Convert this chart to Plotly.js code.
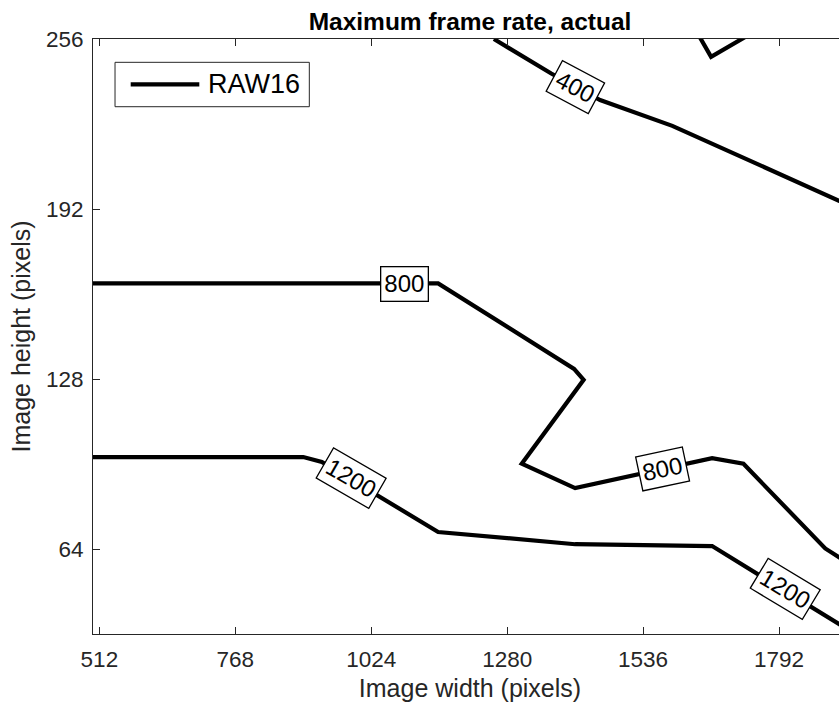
<!DOCTYPE html>
<html>
<head>
<meta charset="utf-8">
<script src="https://cdn.plot.ly/plotly-3.0.1.min.js"></script>
<style>
  html, body { margin: 0; padding: 0; overflow: hidden; background: #fff; }
  #chart { width: 848px; height: 705px; }
</style>
</head>
<body>
<div id="chart"></div>
<script>
// ---- data ----
const seriesName = 'RAW16';
const xTicks = [512, 768, 1024, 1280, 1536, 1792];
const yTicks = [64, 128, 192, 256];

// contour level 400 (main branch)
const w400 = [1255, 1363, 1455, 1591, 1906, 1935];
const h400 = [256, 243, 233, 223.3, 195, 192.4];
// contour level 400 (small piece at top)
const w400b = [1639, 1664, 1739];
const h400b = [258, 249.3, 258];
// contour level 800
const w800 = [500, 1150, 1406, 1424, 1307.5, 1408, 1666, 1725, 1879, 1935];
const h800 = [164, 164, 131.8, 127.7, 96.1, 86.9, 98.2, 96.1, 64.2, 57.1];
// contour level 1200
const w1200 = [500, 896, 931, 1150, 1408, 1666, 1904, 1935];
const h1200 = [98.6, 98.6, 96.8, 70.4, 65.8, 65.1, 35.9, 32.1];

// contour labels
const labelText  = ['400', '800', '800', '1200', '1200'];
const labelX     = [1408, 1087.5, 1572, 985.7, 1803.8];
const labelY     = [238, 163.7, 94.3, 90.6, 48.8];
const labelAngle = [28, 0, -12, 30, 31];

// ---- styling ----
const FONT = 'Liberation Sans, Arial, Helvetica, sans-serif';
const AX = '#262626';
const lineStyle = { color: '#000000', width: 4.2 };

const segs = [[w400, h400], [w400b, h400b], [w800, h800], [w1200, h1200]];
const traces = segs.map((s, i) => ({
  type: 'scatter', mode: 'lines', x: s[0], y: s[1],
  name: seriesName, legendgroup: 'raw16', showlegend: false,
  line: lineStyle, hoverinfo: 'skip'
}));

const annotations = labelText.map((t, i) => ({
  x: labelX[i], y: labelY[i], xref: 'x', yref: 'y',
  text: t, showarrow: false, textangle: labelAngle[i],
  font: { family: FONT, size: 24, color: '#000000' },
  bgcolor: '#ffffff', bordercolor: '#000000', borderwidth: 1.3, borderpad: 3,
  xanchor: 'center', yanchor: 'middle'
}));

// legend drawn as a box (paper coordinates)
annotations.push({
  xref: 'paper', yref: 'paper', x: 0.1495, y: 0.9239,
  xanchor: 'left', yanchor: 'middle', showarrow: false,
  text: seriesName, font: { family: FONT, size: 27, color: '#000000' }
});
const shapes = [
  { type: 'rect', xref: 'paper', yref: 'paper', x0: 0.0292, x1: 0.2869, y0: 0.8862, y1: 0.9608,
    line: { color: AX, width: 1 }, fillcolor: '#ffffff', layer: 'above' },
  { type: 'line', xref: 'paper', yref: 'paper', x0: 0.050, x1: 0.141, y0: 0.9239, y1: 0.9239,
    line: { color: '#000000', width: 4.2 }, layer: 'above' }
];

const axisCommon = {
  showline: true, linecolor: AX, linewidth: 1, mirror: 'ticks',
  ticks: 'inside', ticklen: 7, tickcolor: AX, tickwidth: 1,
  showgrid: false, zeroline: false,
  tickfont: { family: FONT, size: 22.5, color: AX }
};

const layout = {
  width: 848, height: 705,
  margin: { l: 93, r: 1, t: 39, b: 71, pad: 0 },
  paper_bgcolor: '#ffffff', plot_bgcolor: '#ffffff',
  showlegend: false,
  title: {
    text: 'Maximum frame rate, actual',
    font: { family: FONT, size: 24.5, color: '#000000', weight: 'bold' },
    xref: 'paper', x: 0.5, xanchor: 'center',
    yref: 'container', y: 1 - 21 / 705, yanchor: 'middle'
  },
  xaxis: Object.assign({}, axisCommon, {
    range: [500, 1920], tickvals: xTicks, ticktext: xTicks.map(String),
    ticklabelstandoff: 5,
    title: { text: 'Image width (pixels)', font: { family: FONT, size: 25, color: AX }, standoff: 8 }
  }),
  yaxis: Object.assign({}, axisCommon, {
    range: [32, 256], tickvals: yTicks, ticktext: yTicks.map(String),
    ticklabelstandoff: 4,
    title: { text: 'Image height (pixels)', font: { family: FONT, size: 25, color: AX }, standoff: 8 }
  }),
  annotations: annotations,
  shapes: shapes
};

Plotly.newPlot('chart', traces, layout, { displayModeBar: false, staticPlot: true });
</script>
</body>
</html>
